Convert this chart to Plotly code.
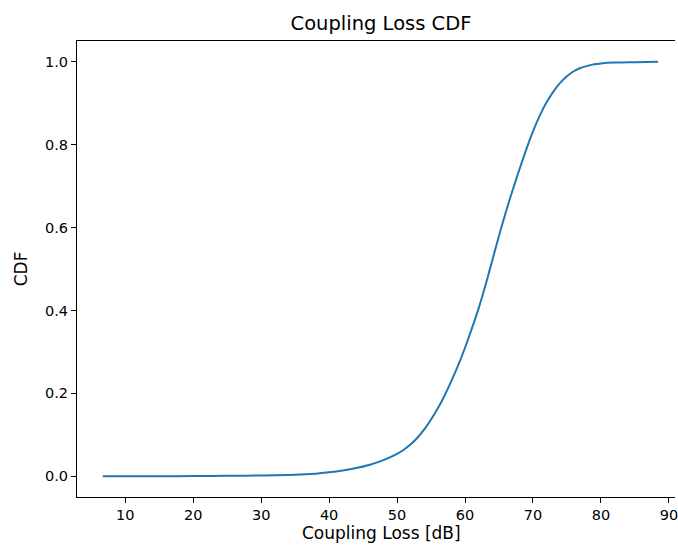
import plotly.graph_objects as go

loss_db = [6.7, 10, 15, 20, 25, 30, 35, 38, 40, 42, 44, 46, 48, 50, 51, 52, 53, 54, 55, 56, 57, 58, 59,
           60, 61, 62, 63, 64, 65, 66, 67, 68, 69, 70, 71, 72, 73, 74, 75, 76, 77, 78, 79, 80, 82, 85, 88.4]
cdf = [0.0, 0.0, 0.0002, 0.0005, 0.001, 0.002, 0.0035, 0.0062, 0.0095, 0.014, 0.020, 0.028, 0.039, 0.054,
       0.064, 0.077, 0.093, 0.113, 0.137, 0.164, 0.195, 0.23, 0.268, 0.31, 0.356, 0.405, 0.46, 0.52,
       0.58, 0.637, 0.69, 0.74, 0.788, 0.832, 0.87, 0.902, 0.928, 0.949, 0.965, 0.977, 0.985, 0.99,
       0.994, 0.996, 0.998, 0.999, 1.0]
x_ticks = [10, 20, 30, 40, 50, 60, 70, 80, 90]
y_ticks = [0.0, 0.2, 0.4, 0.6, 0.8, 1.0]
y_tick_text = ["0.0", "0.2", "0.4", "0.6", "0.8", "1.0"]

font = "DejaVu Sans"
tick_size = 14.5
label_size = 17

fig = go.Figure()
fig.add_trace(go.Scatter(x=loss_db, y=cdf, mode="lines",
                         line=dict(color="#1f77b4", width=2, shape="spline", smoothing=0.6),
                         showlegend=False))

fig.update_layout(
    width=678, height=550,
    margin=dict(l=77, r=0, t=41, b=53),
    paper_bgcolor="white", plot_bgcolor="white",
    font=dict(family=font, size=tick_size, color="black"),
    title=dict(text="Coupling Loss CDF", x=381 / 678, xref="container", xanchor="center",
               y=1 - 23 / 550, yref="container", yanchor="middle",
               font=dict(family=font, size=19.5, color="black")),
    annotations=[
        dict(text="Coupling Loss [dB]", xref="paper", yref="paper",
             x=(383 - 77) / 601, y=-(533 - 496.7) / 455.7, xanchor="center", yanchor="middle",
             showarrow=False, font=dict(family=font, size=label_size, color="black")),
        dict(text="CDF", xref="paper", yref="paper", textangle=-90,
             x=-(77 - 21) / 601, y=0.5, xanchor="center", yanchor="middle",
             showarrow=False, font=dict(family=font, size=label_size, color="black")),
    ],
)

fig.update_xaxes(range=[2.9, 90.9], tickvals=x_ticks, ticks="outside", ticklen=5, tickwidth=1,
                 tickcolor="black", showline=True, linecolor="black", linewidth=1, mirror=True,
                 showgrid=False, zeroline=False, ticklabeloverflow="allow",
                 tickfont=dict(family=font, size=tick_size, color="black"))
fig.update_yaxes(range=[-0.05, 1.05], tickvals=y_ticks, ticktext=y_tick_text, ticks="outside",
                 ticklen=5, tickwidth=1, tickcolor="black", showline=True, linecolor="black",
                 linewidth=1, mirror=False, showgrid=False, zeroline=False,
                 tickfont=dict(family=font, size=tick_size, color="black"))

fig.write_html("out.html")
